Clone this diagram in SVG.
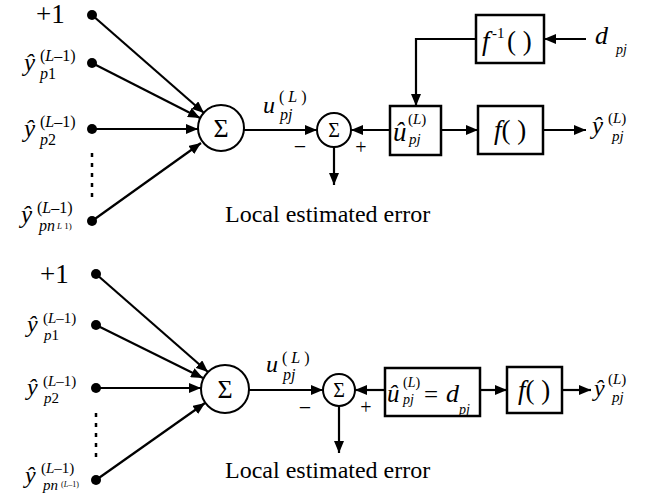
<svg xmlns="http://www.w3.org/2000/svg" width="660" height="500" viewBox="0 0 660 500">
  <style>
    text { font-family: "Liberation Serif", "DejaVu Serif", "Noto Serif", serif; fill: #000; }
    .it { font-style: italic; }
    .box { fill: #fff; stroke: #000; stroke-width: 2.5; }
    .sum { fill: #fff; stroke: #000; stroke-width: 2; }
    .arr { fill: none; stroke: #000; stroke-width: 2.2; marker-end: url(#head); }
    .dash { fill: none; stroke: #000; stroke-width: 2.5; stroke-dasharray: 4 6; }
    .dot { fill: #000; }
  </style>
  <defs>
    <marker id="head" viewBox="0 0 12 10" refX="12" refY="5" markerWidth="12" markerHeight="10" markerUnits="userSpaceOnUse" orient="auto">
      <path d="M0,0 L12,5 L0,10 Z" fill="#000"/>
    </marker>
  </defs>

  <rect width="660" height="500" fill="#fff"/>

  <!-- ===== upper network: target computed through f^-1 ===== -->
  <g id="top-inputs">
    <text x="36" y="23" font-size="27">+1</text>
    <circle class="dot" cx="92" cy="15" r="5"/>

    <text x="24" y="71" font-size="25" class="it">ŷ</text>
    <text x="40" y="61" font-size="16">(<tspan class="it">L</tspan>–1)</text>
    <text x="40" y="79" font-size="16" class="it">p<tspan font-style="normal">1</tspan></text>
    <circle class="dot" cx="92" cy="63" r="5"/>

    <text x="24" y="137" font-size="25" class="it">ŷ</text>
    <text x="40" y="127" font-size="16">(<tspan class="it">L</tspan>–1)</text>
    <text x="40" y="145" font-size="16" class="it">p<tspan font-style="normal">2</tspan></text>
    <circle class="dot" cx="92" cy="129" r="5"/>

    <line class="dash" x1="92" y1="153" x2="92" y2="198"/>

    <text x="21" y="223" font-size="25" class="it">ŷ</text>
    <text x="37" y="213" font-size="16">(<tspan class="it">L</tspan>–1)</text>
    <text x="39" y="231" font-size="16" class="it">pn</text>
    <text x="57" y="229" font-size="9"><tspan class="it">L</tspan> 1)</text>
    <circle class="dot" cx="92" cy="221" r="5"/>
  </g>

  <g id="top-sum">
    <circle class="sum" cx="221" cy="128" r="23"/>
    <text x="221" y="137" font-size="26" text-anchor="middle">Σ</text>
  </g>

  <g id="top-u-label">
    <text x="263" y="113" font-size="24" class="it">u</text>
    <text x="279" y="102" font-size="16">( <tspan class="it">L</tspan> )</text>
    <text x="280" y="120" font-size="16" class="it">pj</text>
  </g>

  <g id="top-error-sum">
    <circle class="sum" cx="334" cy="130" r="17"/>
    <text x="334" y="137" font-size="20" text-anchor="middle">Σ</text>
    <text x="300" y="154" font-size="22" text-anchor="middle">−</text>
    <text x="361" y="154" font-size="20" text-anchor="middle">+</text>
  </g>

  <g id="top-error-label">
    <text x="225" y="222" font-size="24">Local estimated error</text>
  </g>

  <g id="top-uhat">
    <rect class="box" x="390" y="106" width="51" height="49"/>
    <text x="393" y="141" font-size="27" class="it">û</text>
    <text x="408" y="124" font-size="15">(<tspan class="it">L</tspan>)</text>
    <text x="409" y="144" font-size="15" class="it">pj</text>
  </g>

  <g id="top-f">
    <rect class="box" x="478" y="106" width="65" height="48"/>
    <text x="510" y="139" font-size="27" text-anchor="middle"><tspan class="it">f</tspan>( )</text>
  </g>

  <g id="top-finv">
    <rect class="box" x="476" y="15" width="68" height="48"/>
    <text x="482" y="50" font-size="27" class="it">f</text>
    <text x="492" y="38" font-size="15">-1</text>
    <text x="507" y="50" font-size="27">( )</text>
  </g>

  <g id="top-d">
    <text x="595" y="44" font-size="26" class="it">d</text>
    <text x="616" y="54" font-size="14" class="it">pj</text>
  </g>

  <g id="top-yout">
    <text x="592" y="134" font-size="25" class="it">ŷ</text>
    <text x="608" y="123" font-size="15">(<tspan class="it">L</tspan>)</text>
    <text x="612" y="141" font-size="15" class="it">pj</text>
  </g>

  <!-- ===== lower network: target given directly ===== -->
  <g id="bottom-inputs">
    <text x="40" y="283" font-size="27">+1</text>
    <circle class="dot" cx="96" cy="274" r="5"/>

    <text x="27" y="332" font-size="24" class="it">ŷ</text>
    <text x="43" y="323" font-size="15">(<tspan class="it">L</tspan>–1)</text>
    <text x="44" y="340" font-size="15" class="it">p<tspan font-style="normal">1</tspan></text>
    <circle class="dot" cx="96" cy="325" r="5"/>

    <text x="27" y="395" font-size="24" class="it">ŷ</text>
    <text x="43" y="386" font-size="15">(<tspan class="it">L</tspan>–1)</text>
    <text x="44" y="403" font-size="15" class="it">p<tspan font-style="normal">2</tspan></text>
    <circle class="dot" cx="96" cy="388" r="5"/>

    <line class="dash" x1="96" y1="413" x2="96" y2="458"/>

    <text x="25" y="483" font-size="24" class="it">ŷ</text>
    <text x="41" y="473" font-size="15">(<tspan class="it">L</tspan>–1)</text>
    <text x="43" y="490" font-size="15" class="it">pn</text>
    <text x="61" y="487" font-size="8">(<tspan class="it">L</tspan>–1)</text>
    <circle class="dot" cx="96" cy="480" r="5"/>
  </g>

  <g id="bottom-sum">
    <circle class="sum" cx="225" cy="389" r="24"/>
    <text x="225" y="398" font-size="26" text-anchor="middle">Σ</text>
  </g>

  <g id="bottom-u-label">
    <text x="266" y="372" font-size="24" class="it">u</text>
    <text x="282" y="363" font-size="16">( <tspan class="it">L</tspan> )</text>
    <text x="283" y="380" font-size="16" class="it">pj</text>
  </g>

  <g id="bottom-error-sum">
    <circle class="sum" cx="339" cy="390" r="16"/>
    <text x="339" y="397" font-size="20" text-anchor="middle">Σ</text>
    <text x="305" y="415" font-size="22" text-anchor="middle">−</text>
    <text x="366" y="414" font-size="20" text-anchor="middle">+</text>
  </g>

  <g id="bottom-error-label">
    <text x="225" y="478" font-size="24">Local estimated error</text>
  </g>

  <g id="bottom-target">
    <rect class="box" x="385" y="368" width="95" height="48"/>
    <text x="387" y="402" font-size="25" class="it">û</text>
    <text x="403" y="387" font-size="14">(<tspan class="it">L</tspan>)</text>
    <text x="403" y="404" font-size="14" class="it">pj</text>
    <text x="424" y="403" font-size="25">=</text>
    <text x="446" y="402" font-size="26" class="it">d</text>
    <text x="459" y="414" font-size="14" class="it">pj</text>
  </g>

  <g id="bottom-f">
    <rect class="box" x="507" y="367" width="55" height="46"/>
    <text x="534" y="399" font-size="27" text-anchor="middle"><tspan class="it">f</tspan>( )</text>
  </g>

  <g id="bottom-yout">
    <text x="594" y="396" font-size="24" class="it">ŷ</text>
    <text x="608" y="384" font-size="15">(<tspan class="it">L</tspan>)</text>
    <text x="612" y="402" font-size="15" class="it">pj</text>
  </g>

  <!-- ===== connectors ===== -->
  <g id="connectors">
    <!-- upper network -->
    <line class="arr" x1="92" y1="15" x2="204" y2="113"/>
    <line class="arr" x1="92" y1="63" x2="200" y2="118"/>
    <line class="arr" x1="92" y1="129" x2="198" y2="129"/>
    <line class="arr" x1="92" y1="221" x2="201" y2="143"/>
    <line class="arr" x1="244" y1="130" x2="317" y2="130"/>
    <line class="arr" x1="390" y1="130" x2="351" y2="130"/>
    <line class="arr" x1="334" y1="147" x2="334" y2="185"/>
    <line class="arr" x1="441" y1="130" x2="478" y2="130"/>
    <line class="arr" x1="543" y1="130" x2="586" y2="130"/>
    <line class="arr" x1="586" y1="39" x2="544" y2="39"/>
    <polyline class="arr" points="476,39 416,39 416,106"/>

    <!-- lower network -->
    <line class="arr" x1="96" y1="274" x2="208" y2="372"/>
    <line class="arr" x1="96" y1="325" x2="203" y2="378"/>
    <line class="arr" x1="96" y1="388" x2="201" y2="388"/>
    <line class="arr" x1="96" y1="480" x2="205" y2="403"/>
    <line class="arr" x1="249" y1="390" x2="323" y2="390"/>
    <line class="arr" x1="385" y1="390" x2="355" y2="390"/>
    <line class="arr" x1="339" y1="406" x2="339" y2="453"/>
    <line class="arr" x1="480" y1="390" x2="507" y2="390"/>
    <line class="arr" x1="562" y1="390" x2="591" y2="390"/>
  </g>
</svg>
